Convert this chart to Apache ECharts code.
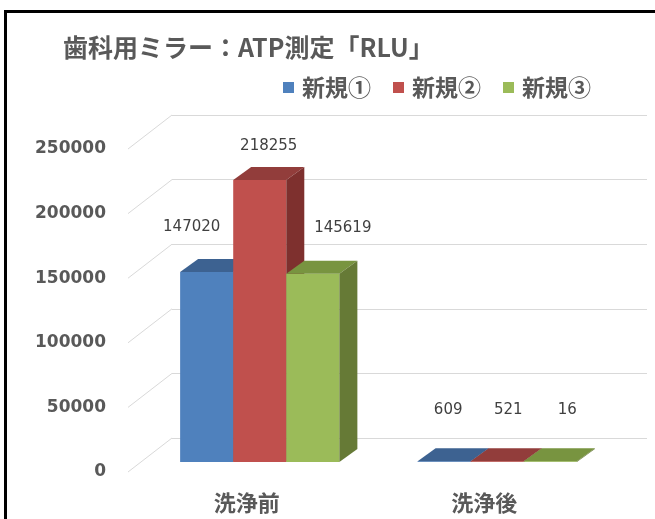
<!DOCTYPE html>
<html><head><meta charset="utf-8">
<script src="https://cdn.jsdelivr.net/npm/echarts@6/dist/echarts.min.js"></script>
<style>html,body{margin:0;padding:0;background:#fff}#c{width:655px;height:519px}</style>
</head><body><div id="c"></div>
<script>
// ---- data ----
const categories = ['洗浄前', '洗浄後'];
const seriesNames = ['新規①', '新規②', '新規③'];
const valuesShinki1 = [147020, 609];
const valuesShinki2 = [218255, 521];
const valuesShinki3 = [145619, 16];
const yTicks = [0, 50000, 100000, 150000, 200000, 250000];
const titleText = '歯科用ミラー：ATP測定「RLU」';

// ---- styles ----
const COLORS = [
  { front: '#4F81BD', top: '#3D6291', side: '#385A86' },
  { front: '#C0504D', top: '#923D3B', side: '#7E302E' },
  { front: '#9BBB59', top: '#789440', side: '#667A36' }
];
const FRONT_SHIFT = [-31, 24];   // back wall plane -> bar front plane
const DEPTH = [18, -13];         // bar depth offset
const WALL = [-44, 34];          // back wall -> front edge of side wall
const LABEL_NUDGE = [            // [series][category] label nudges
  [[-24, -32], [-5, -38]],
  [[0, -21], [2, -38]],
  [[21, -33], [8, -38]]
];
const GREY = '#595959';

const allValues = [valuesShinki1, valuesShinki2, valuesShinki3];

function barRender(si) {
  return function (params, api) {
    const c = api.value(0), v = api.value(1);
    const base = api.coord([c, 0]);
    const top = api.coord([c, v]);
    const band = api.size([1, 0])[0];
    const bw = band * 0.2235;
    const x0 = base[0] + FRONT_SHIFT[0] - 1.5 * bw + si * bw;
    const x1 = x0 + bw;
    const yb = base[1] + FRONT_SHIFT[1];
    const yt = Math.min(top[1] + FRONT_SHIFT[1], yb - 0.8);
    const col = COLORS[si];
    const nd = LABEL_NUDGE[si][c];
    return {
      type: 'group',
      children: [
        { type: 'rect', shape: { x: x0, y: yt, width: bw, height: yb - yt }, style: { fill: col.front } },
        { type: 'polygon', shape: { points: [[x0, yt], [x1, yt], [x1 + DEPTH[0], yt + DEPTH[1]], [x0 + DEPTH[0], yt + DEPTH[1]]] }, style: { fill: col.top } },
        { type: 'polygon', shape: { points: [[x1, yt], [x1 + DEPTH[0], yt + DEPTH[1]], [x1 + DEPTH[0], yb + DEPTH[1]], [x1, yb]] }, style: { fill: col.side } },
        { type: 'text', z2: 10, style: { text: String(v), x: x0 + bw / 2 + DEPTH[0] / 2 + nd[0], y: yt + DEPTH[1] + nd[1], align: 'center', verticalAlign: 'middle', fill: '#404040', fontSize: 15, fontFamily: 'DejaVu Sans' } }
      ]
    };
  };
}

const chart = echarts.init(document.getElementById('c'));
const series = [{
  type: 'custom',
  name: 'wall',
  coordinateSystem: 'cartesian2d', xAxisIndex: 0, yAxisIndex: 0,
  clip: false, silent: true,
  data: yTicks.map(t => [0, t]),
  encode: { x: 0, y: 1 },
  renderItem: function (params, api) {
    const y = api.coord([0, api.value(1)])[1];
    const x = params.coordSys.x;
    return { type: 'line', shape: { x1: x, y1: y, x2: x + WALL[0], y2: y + WALL[1] }, style: { stroke: '#D9D9D9', lineWidth: 1 } };
  }
}];
seriesNames.forEach((nm, si) => {
  series.push({
    type: 'custom',
    name: nm,
    coordinateSystem: 'cartesian2d', xAxisIndex: 0, yAxisIndex: 0,
    clip: false,
    itemStyle: { color: COLORS[si].front },
    data: allValues[si].map((v, i) => [i, v]),
    encode: { x: 0, y: 1 },
    renderItem: barRender(si)
  });
});

chart.setOption({
  animation: false,
  backgroundColor: '#fff',
  title: {
    text: titleText, left: 63, top: 35, padding: 0,
    textStyle: { fontFamily: 'Noto Sans CJK JP', fontWeight: 'bold', fontSize: 25, color: GREY }
  },
  legend: {
    data: seriesNames, left: 283, top: 76, padding: 0,
    icon: 'rect', itemWidth: 11, itemHeight: 11, itemGap: 22,
    textStyle: { fontFamily: 'Noto Sans CJK JP', fontWeight: 'bold', fontSize: 23, color: GREY, padding: [0, 0, 0, 3] }
  },
  grid: [
    { left: 172, right: 8, top: 115, bottom: 81 },
    { left: 128, right: 52, top: 149, bottom: 47 }
  ],
  xAxis: [
    { gridIndex: 0, type: 'category', data: categories, show: false },
    { gridIndex: 1, type: 'category', data: categories,
      axisLine: { show: false }, axisTick: { show: false }, splitLine: { show: false },
      axisLabel: { margin: 20, fontFamily: 'Noto Sans CJK JP', fontWeight: 'bold', fontSize: 22, color: GREY } }
  ],
  yAxis: [
    { gridIndex: 0, type: 'value', min: yTicks[0], max: yTicks[yTicks.length - 1], interval: yTicks[1] - yTicks[0],
      axisLabel: { show: false }, axisLine: { show: false }, axisTick: { show: false },
      splitLine: { show: true, lineStyle: { color: '#D9D9D9', width: 1 } } },
    { gridIndex: 1, type: 'value', min: yTicks[0], max: yTicks[yTicks.length - 1], interval: yTicks[1] - yTicks[0],
      axisLine: { show: false }, axisTick: { show: false }, splitLine: { show: false },
      axisLabel: { margin: 22, fontFamily: 'DejaVu Sans', fontWeight: 'bold', fontSize: 17, color: GREY,
        formatter: function (v) { return String(v); } } }
  ],
  graphic: [{
    type: 'rect', z: 100, silent: true,
    shape: { x: 5.5, y: 11.5, width: 700, height: 600 },
    style: { fill: null, stroke: '#000', lineWidth: 3 }
  }],
  series: series
});
</script></body></html>
